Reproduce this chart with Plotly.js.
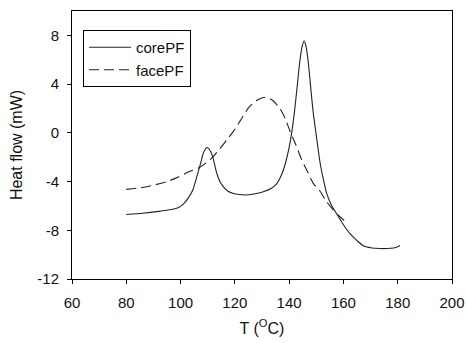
<!DOCTYPE html>
<html>
<head>
<meta charset="utf-8">
<script src="https://cdn.plot.ly/plotly-3.0.1.min.js"></script>
<style>html,body{margin:0;padding:0;background:#fff;}#chart{width:466px;height:343px;}</style>
</head>
<body>
<div id="chart"></div>
<script>
const coreT = [80, 86, 92, 96, 99, 101, 103, 104.5, 106, 107.5, 108.5, 109.8, 111, 112, 113.3, 114.5, 115.5, 117.5, 119.5, 121.5, 123.7, 127, 130.5, 133.5, 135.5, 137, 138.5, 140, 141, 142, 143, 144, 144.8, 145.5, 146.2, 147, 148, 148.8, 149.8, 150.6, 151.5, 152.6, 153.8, 155.5, 157.5, 160, 162.5, 165, 167.5, 170.5, 173.5, 176, 178.5, 180, 180.8];
const coreH = [-6.7, -6.6, -6.45, -6.32, -6.15, -5.85, -5.3, -4.7, -3.6, -2.4, -1.6, -1.2, -1.5, -2.1, -3.3, -4.0, -4.35, -4.8, -4.98, -5.06, -5.1, -5.02, -4.83, -4.55, -4.15, -3.55, -2.6, -1.2, 0.1, 1.8, 3.9, 6.0, 7.1, 7.56, 7.1, 5.9, 3.6, 1.8, 0.1, -1.2, -2.6, -3.8, -4.95, -5.9, -6.65, -7.55, -8.3, -8.85, -9.3, -9.45, -9.5, -9.5, -9.45, -9.35, -9.25];
const faceT = [80, 85, 90, 95, 99, 103, 106.5, 109.5, 112, 114.5, 117, 119.4, 122, 125, 128, 130.5, 132, 134, 136.6, 138.5, 140.3, 142.5, 144.6, 146.8, 148.9, 151.4, 153.8, 156.3, 158.5, 161.5];
const faceH = [-4.64, -4.52, -4.3, -4.0, -3.65, -3.2, -2.9, -2.45, -1.96, -1.3, -0.6, 0.1, 1.0, 2.05, 2.65, 2.9, 2.88, 2.65, 2.0, 1.2, 0.15, -1.0, -2.2, -3.2, -4.15, -4.8, -5.66, -6.34, -6.85, -7.43];
const xTicks = [60, 80, 100, 120, 140, 160, 180, 200];
const yTicks = [-12, -8, -4, 0, 4, 8];

const FONT = 'Liberation Sans, Arial, sans-serif';

const traces = [
  {x: coreT, y: coreH, name: 'corePF', mode: 'lines', line: {color: '#222', width: 1.1, shape: 'spline', smoothing: 0.6}},
  {x: faceT, y: faceH, name: 'facePF', mode: 'lines', line: {color: '#222', width: 1.1, dash: '10px,5px', shape: 'spline', smoothing: 0.6}}
];

const axisCommon = {
  showline: true, linecolor: '#000', linewidth: 1, mirror: true,
  ticks: 'outside', ticklen: 4, tickcolor: '#000', tickwidth: 1,
  showgrid: false, zeroline: false,
  tickfont: {family: FONT, size: 15, color: '#111'}
};

const layout = {
  width: 466, height: 343,
  margin: {l: 72, r: 14, t: 11, b: 64},
  paper_bgcolor: '#fff', plot_bgcolor: '#fff',
  showlegend: true,
  legend: {
    x: 0.029, y: 0.929, xanchor: 'left', yanchor: 'top',
    bgcolor: '#fff', bordercolor: '#000', borderwidth: 1,
    font: {family: FONT, size: 15, color: '#111'},
    itemwidth: 42,
    tracegroupgap: 0
  },
  xaxis: Object.assign({}, axisCommon, {
    range: [60, 200], tickvals: xTicks, ticktext: xTicks.map(String),
    ticklabelstandoff: 6,
    title: {text: 'T (<sup>O</sup>C)', standoff: 12, font: {family: FONT, size: 16, color: '#111'}}
  }),
  yaxis: Object.assign({}, axisCommon, {
    range: [-12, 10], tickvals: yTicks, ticktext: yTicks.map(String),
    ticklabelstandoff: 5,
    title: {text: 'Heat flow (mW)', standoff: 10, font: {family: FONT, size: 16, color: '#111'}}
  })
};

Plotly.newPlot('chart', traces, layout, {displayModeBar: false, staticPlot: true});
</script>
</body>
</html>
